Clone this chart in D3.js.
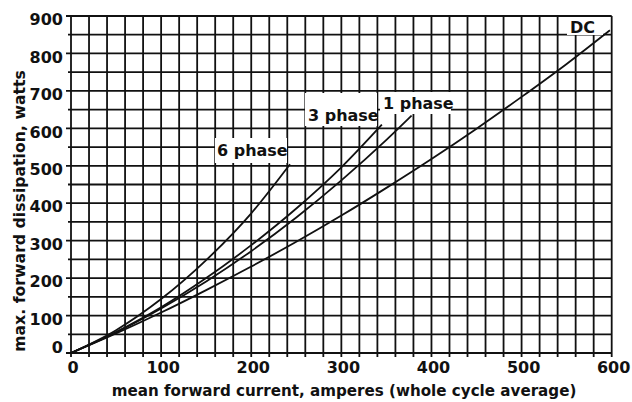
<!DOCTYPE html>
<html><head><meta charset="utf-8">
<script src="https://cdn.jsdelivr.net/npm/d3@7"></script>
<style>body{margin:0;background:#fff}svg{display:block}</style>
</head><body><svg id="c" width="632" height="402"></svg>
<script>
// ---- data ----
const xTickLabels = [0, 100, 200, 300, 400, 500, 600];
const yTickLabels = [0, 100, 200, 300, 400, 500, 600, 700, 800, 900];
const xGridValues = [0,20,40,60,80,100,120,140,160,180,200,220,240,260,280,300,320,340,360,380,400,420,440,460,480,500,520,540,560,580,600];
const yGridValues = [0,50,100,150,200,250,300,350,400,450,500,550,600,650,700,750,800,850,900];

const dcCurrent  = [0, 50, 100, 150, 200, 250, 300, 350, 400, 450, 500, 550, 598];
const dcWatts    = [0, 52, 108, 168, 231, 297, 367, 441, 518, 599, 684, 772, 862];
const ph1Current = [0, 50, 100, 150, 200, 250, 300, 350, 378];
const ph1Watts   = [0, 55, 119, 191, 272, 362, 461, 569, 634];
const ph3Current = [0, 50, 100, 150, 200, 250, 300, 345];
const ph3Watts   = [0, 56, 122, 200, 288, 386, 496, 610];
const ph6Current = [0, 50, 100, 150, 200, 243];
const ph6Watts   = [0, 61, 144, 248, 373, 504];

const seriesNames = ["DC", "1 phase", "3 phase", "6 phase"];
const xTitle = "mean forward current, amperes (whole cycle average)";
const yTitle = "max. forward dissipation, watts";

// ---- layout ----
const svg = d3.select("#c");
const FONT = "'DejaVu Sans', sans-serif";
const X0 = 71, X1 = 611.7, Y0 = 353, Y1 = 16;
const x = d3.scaleLinear().domain([0, 600]).range([X0, X1]);
const y = d3.scaleLinear().domain([0, 900]).range([Y0, Y1]);
const ink = "#111";

svg.append("rect").attr("width", 632).attr("height", 402).attr("fill", "#fff");

// grid
const g = svg.append("g").attr("stroke", ink).attr("stroke-width", 1.8).attr("fill", "none");
g.selectAll("line.v").data(xGridValues).enter().append("line")
  .attr("x1", d => x(d)).attr("x2", d => x(d))
  .attr("y1", y(900)).attr("y2", Y0 + 4);
g.selectAll("line.h").data(yGridValues).enter().append("line")
  .attr("y1", d => y(d)).attr("y2", d => y(d))
  .attr("x1", d => X0 - (d % 100 === 0 ? 5 : 3)).attr("x2", x(600));

// curves
const series = [
  [dcCurrent, dcWatts], [ph1Current, ph1Watts], [ph3Current, ph3Watts], [ph6Current, ph6Watts]
];
const line = d3.line().x(d => x(d[0])).y(d => y(d[1])).curve(d3.curveMonotoneX);
series.forEach(([cs, ws]) => {
  svg.append("path").datum(cs.map((c, i) => [c, ws[i]]))
    .attr("d", line).attr("fill", "none").attr("stroke", ink).attr("stroke-width", 1.8);
});

// curve labels with white backing
const labelBoxes = [
  {name: seriesNames[0], bx: 567, by: 17,  bw: 36, bh: 18,  tx: 570, ty: 32.5},
  {name: seriesNames[1], bx: 380, by: 92,  bw: 71, bh: 22,  tx: 383, ty: 108.5},
  {name: seriesNames[2], bx: 305, by: 93,  bw: 72, bh: 33,  tx: 308, ty: 120.5},
  {name: seriesNames[3], bx: 215, by: 138, bw: 72, bh: 25,  tx: 217, ty: 155.5}
];
labelBoxes.forEach(b => {
  svg.append("rect").attr("x", b.bx).attr("y", b.by).attr("width", b.bw).attr("height", b.bh).attr("fill", "#fff");
  svg.append("text").attr("x", b.tx).attr("y", b.ty).text(b.name)
    .attr("font-family", FONT).attr("font-weight", "bold").attr("font-size", 16).attr("fill", ink);
});

// tick labels
svg.append("g").selectAll("text").data(yTickLabels).enter().append("text")
  .attr("x", 63).attr("y", d => d === 0 ? y(d) - 6 : y(d) + 3.5).attr("dy", "0.36em")
  .attr("text-anchor", "end").attr("font-family", FONT).attr("font-weight", "bold")
  .attr("font-size", 16).attr("fill", ink).text(d => d);
svg.append("g").selectAll("text").data(xTickLabels).enter().append("text")
  .attr("x", d => x(d) + 2).attr("y", 372.5)
  .attr("text-anchor", "middle").attr("font-family", FONT).attr("font-weight", "bold")
  .attr("font-size", 16).attr("fill", ink).text(d => d);

// axis titles fitted to reference extents
function fitText(sel, target) {
  const len = sel.node().getComputedTextLength();
  sel.attr("font-size", 15 * target / len);
}
const xt = svg.append("text").attr("x", 344).attr("y", 395.5).attr("text-anchor", "middle")
  .attr("font-family", FONT).attr("font-weight", "bold").attr("font-size", 15).attr("fill", ink).text(xTitle);
fitText(xt, 465);
const yt = svg.append("text").attr("transform", "translate(25,211) rotate(-90)").attr("text-anchor", "middle")
  .attr("font-family", FONT).attr("font-weight", "bold").attr("font-size", 15).attr("fill", ink).text(yTitle);
fitText(yt, 282);
</script></body></html>
